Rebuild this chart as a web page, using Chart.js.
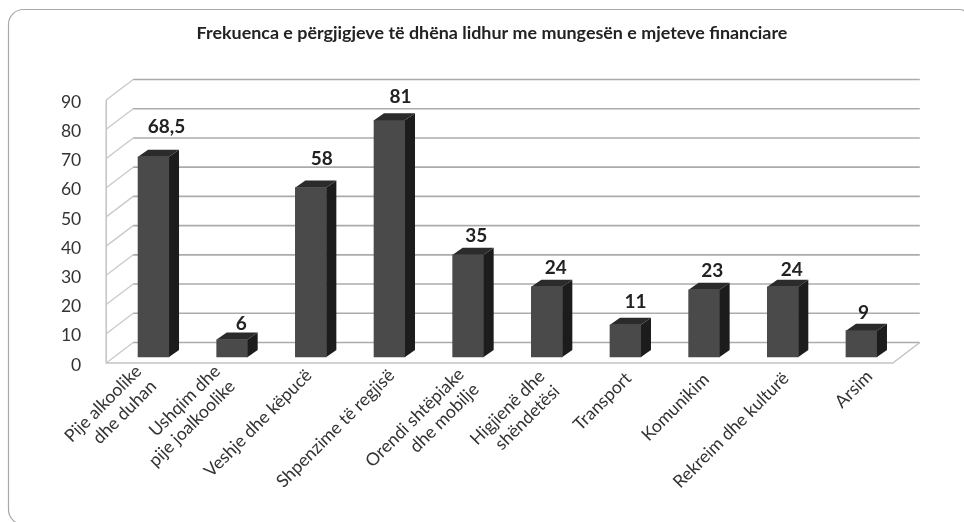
<!DOCTYPE html>
<html><head><meta charset="utf-8">
<style>html,body{margin:0;padding:0;background:#fff}canvas{display:block;filter:blur(0.35px)}</style>
<script src="https://cdn.jsdelivr.net/npm/chart.js@4"></script>
</head><body><canvas id="c" width="964" height="522"></canvas>
<script>
const chartTitle = 'Frekuenca e përgjigjeve të dhëna lidhur me mungesën e mjeteve financiare';
const categories = [['Pije alkoolike','dhe duhan'],['Ushqim dhe','pije joalkoolike'],'Veshje dhe këpucë','Shpenzime të regjisë',['Orendi shtëpiake','dhe mobilje'],['Higjienë dhe','shëndetësi'],'Transport','Komunikim','Rekreim dhe kulturë','Arsim'];
const values = [68.5,6,58,81,35,24,11,23,24,9];
const valueLabels = ['68,5','6','58','81','35','24','11','23','24','9'];
const yTicks = [0,10,20,30,40,50,60,70,80,90];
const labelNudgeX = [13,9,11,11,8,9,10,8,9,2];
const labelNudgeY = [-30,-16,-29,-23,-19,-19,-23,-19,-17,-18];
const tickNudgeX = [-15,-15,-2,2,-7,-5,3,2,3,8];
const tickNudgeY = [-11,-11,-7,-7,-8,-6,-4,-3,-4,-6];
const FONT = 'Lato, Carlito, sans-serif';
const frontDX=-8, frontDY=-2, backDX=19, backDY=-20.5, sideW=10, sideH=7;

const scene = {
  id:'scene',
  beforeDraw(ch){
    const g=ch.ctx;
    ch.scales.x.getLabelItems().forEach((it,i)=>{
      it.options.translation[0]+=tickNudgeX[i]; it.options.translation[1]+=tickNudgeY[i];
    });
    g.save();
    g.strokeStyle='#a8a8a8'; g.lineWidth=1.2;
    g.beginPath(); g.roundRect(8.5,9.5,965,515,15); g.stroke();
    const a=ch.chartArea, y=ch.scales.y;
    const fl=a.left+frontDX, fr=a.right+frontDX;
    const bl=a.left+backDX, br=a.right+backDX-0;
    g.lineCap='butt';
    yTicks.forEach(v=>{
      const p=y.getPixelForValue(v)+frontDY;
      g.strokeStyle='#c9c9c9'; g.lineWidth=1.3;
      g.beginPath(); g.moveTo(fl,p); g.lineTo(bl,p+backDY); g.stroke();
      g.strokeStyle='#ababab'; g.lineWidth=1.6;
      g.beginPath(); g.moveTo(bl,p+backDY); g.lineTo(br,p+backDY); g.stroke();
    });
    const y0=y.getPixelForValue(0)+frontDY, y9=y.getPixelForValue(90)+frontDY;
    g.strokeStyle='#c4c4c4'; g.lineWidth=1.5;
    g.beginPath(); g.moveTo(fl,y9); g.lineTo(fl,y0); g.lineTo(fr,y0); g.lineTo(br,y0+backDY); g.stroke();
    g.fillStyle='#222'; g.font='bold 17.9px '+FONT; g.textAlign='center'; g.textBaseline='middle';
    g.fillText(chartTitle,492,33);
    g.restore();
  },
  afterDatasetsDraw(ch){
    const g=ch.ctx, m=ch.getDatasetMeta(0);
    g.save();
    m.data.forEach((b,i)=>{
      const r=b.x+b.width/2, l=b.x-b.width/2, t=b.y, bt=b.base;
      g.fillStyle='#1c1c1c';
      g.beginPath(); g.moveTo(r,t); g.lineTo(r+sideW,t-sideH); g.lineTo(r+sideW,bt-sideH); g.lineTo(r,bt); g.closePath(); g.fill();
      g.fillStyle='#2b2b2b';
      g.beginPath(); g.moveTo(l,t); g.lineTo(l+sideW,t-sideH); g.lineTo(r+sideW,t-sideH); g.lineTo(r,t); g.closePath(); g.fill();
      g.fillStyle='#222';
      g.font='bold 19px '+FONT; g.textAlign='center'; g.textBaseline='middle';
      g.fillText(valueLabels[i], b.x+labelNudgeX[i], t+labelNudgeY[i]);
    });
    g.restore();
  }
};

new Chart(document.getElementById('c'),{
  type:'bar',
  data:{labels:categories,datasets:[{data:values,yAxisID:'y2',base:0,backgroundColor:'#4a4a4a',borderWidth:0,barThickness:31}]},
  plugins:[scene],
  options:{
    responsive:false,animation:false,
    layout:{padding:{left:0,right:63.2,top:102,bottom:0}},
    plugins:{legend:{display:false},tooltip:{enabled:false},title:{display:false}},
    scales:{
      x:{grid:{display:false},border:{display:false},
        afterFit(s){s.height=157;},
        ticks:{autoSkip:false,maxRotation:45,minRotation:45,padding:-1,color:'#333',font:{family:FONT,size:17.6,lineHeight:1.2}}},
      y:{position:'left',min:0,max:90,grid:{display:false},border:{display:false},
        afterFit(s){s.width=114.2;},
        afterBuildTicks(s){s.ticks=yTicks.map(v=>({value:v}));},
        ticks:{padding:25,color:'#333',font:{family:FONT,size:17.5}}},
      y2:{display:false,min:-2.74,max:87.27}
    }
  }
});
</script></body></html>
